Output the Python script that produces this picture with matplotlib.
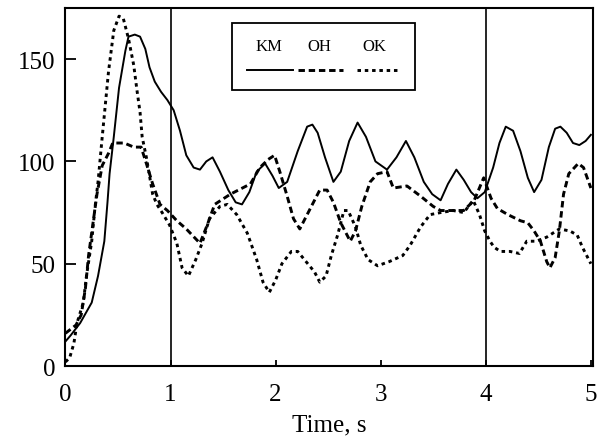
import numpy as np
import matplotlib.pyplot as plt
from matplotlib.lines import Line2D
from matplotlib.patches import Rectangle

# series (time in s, value)
km_t = [0, 0.05, 0.14, 0.25, 0.31, 0.37, 0.40, 0.42, 0.46, 0.51, 0.57, 0.60, 0.66, 0.71,
        0.76, 0.80, 0.85, 0.91, 0.97, 1.03, 1.09, 1.15, 1.22, 1.28, 1.34, 1.40, 1.47, 1.55,
        1.62, 1.68, 1.75, 1.82, 1.90, 1.97, 2.03, 2.11, 2.21, 2.30, 2.35, 2.40, 2.47, 2.55,
        2.62, 2.70, 2.78, 2.86, 2.95, 3.06, 3.15, 3.24, 3.32, 3.41, 3.49, 3.57, 3.64, 3.72,
        3.79, 3.86, 3.92, 3.99, 4.07, 4.13, 4.19, 4.26, 4.33, 4.40, 4.46, 4.53, 4.60, 4.66,
        4.71, 4.77, 4.83, 4.89, 4.95, 5.00]
km_v = [12, 15, 21, 31, 44, 61, 80, 94, 112, 136, 154, 161, 162, 161,
        155, 146, 139, 134, 130, 125, 115, 103, 97, 96, 100, 102, 95, 86,
        80, 79, 85, 95, 99, 93, 87, 90, 105, 117, 118, 114, 102, 90,
        95, 110, 119, 112, 100, 96, 102, 110, 102, 90, 84, 81, 89, 96,
        91, 85, 82, 85, 97, 109, 117, 115, 105, 92, 85, 91, 107, 116,
        117, 114, 109, 108, 110, 113]

oh_t = [0, 0.10, 0.15, 0.19, 0.22, 0.26, 0.30, 0.35, 0.41, 0.45, 0.56, 0.65, 0.72, 0.77,
        0.83, 0.90, 0.97, 1.06, 1.15, 1.28, 1.35, 1.42, 1.57, 1.76, 1.85, 1.93, 1.99, 2.04,
        2.11, 2.17, 2.23, 2.33, 2.42, 2.49, 2.55, 2.62, 2.71, 2.76, 2.82, 2.90, 2.97, 3.06,
        3.12, 3.25, 3.38, 3.50, 3.57, 3.73, 3.79, 3.89, 3.98, 4.05, 4.11, 4.21, 4.33, 4.40,
        4.46, 4.52, 4.58, 4.61, 4.66, 4.70, 4.74, 4.79, 4.88, 4.93, 5.00]
oh_v = [16, 20, 25, 38, 54, 69, 84, 98, 104, 109, 109, 107, 107, 99,
        89, 79, 76, 71, 67, 60, 69, 79, 84, 89, 97, 101, 103, 95,
        83, 72, 67, 77, 86, 86, 80, 70, 61, 66, 78, 90, 94, 95,
        87, 88, 83, 78, 76, 76, 76, 81, 92, 82, 77, 74, 71, 70,
        66, 61, 51, 48, 53, 66, 84, 94, 99, 97, 87]

ok_t = [0, 0.04, 0.08, 0.11, 0.17, 0.20, 0.25, 0.28, 0.31, 0.35, 0.41, 0.46, 0.51, 0.55,
        0.60, 0.65, 0.68, 0.71, 0.73, 0.77, 0.80, 0.83, 0.87, 0.92, 0.99, 1.06, 1.11, 1.17,
        1.24, 1.30, 1.37, 1.47, 1.54, 1.63, 1.73, 1.82, 1.88, 1.94, 2.00, 2.06, 2.15, 2.21,
        2.29, 2.37, 2.42, 2.48, 2.53, 2.59, 2.65, 2.69, 2.76, 2.81, 2.88, 2.97, 3.08, 3.21,
        3.28, 3.38, 3.47, 3.57, 3.69, 3.79, 3.88, 3.94, 3.99, 4.04, 4.08, 4.14, 4.23, 4.32,
        4.39, 4.48, 4.58, 4.70, 4.80, 4.87, 4.92, 5.00]
ok_v = [2, 4, 11, 21, 31, 44, 61, 77, 90, 112, 144, 164, 171, 170,
        160, 147, 135, 124, 112, 102, 93, 84, 79, 75, 69, 60, 48, 44,
        52, 60, 72, 78, 79, 74, 65, 52, 41, 36, 42, 50, 56, 56,
        51, 46, 41, 44, 54, 64, 76, 76, 68, 59, 52, 49, 51, 54,
        59, 68, 74, 75, 76, 75, 81, 74, 66, 61, 58, 56, 56, 55,
        61, 61, 63, 67, 66, 64, 58, 50]

marker_times = [1, 4]
x_ticks = [0, 1, 2, 3, 4, 5]
y_ticks = [0, 50, 100, 150]

plt.rcParams['font.family'] = ['Liberation Serif', 'DejaVu Serif']

fig = plt.figure(figsize=(6.06, 4.39), dpi=100)
ax = fig.add_axes([0.108, 0.164, 0.8705, 0.8155])

oh_style = (0, (2.2, 1.3))
ok_style = (0, (1.2, 1.3))

ax.plot(km_t, km_v, color='black', lw=1.4)
ax.plot(oh_t, oh_v, color='black', lw=2.1, linestyle=oh_style)
ax.plot(ok_t, ok_v, color='black', lw=2.1, linestyle=ok_style)

for t in marker_times:
    ax.axvline(t, color='black', lw=1.2)

ax.set_xlim(0, 5.02)
ax.set_ylim(0, 175)
ax.set_xticks(x_ticks)
ax.set_yticks(y_ticks)
ax.tick_params(axis='y', direction='in', length=8, width=1.3, labelsize=18, pad=7)
ax.tick_params(axis='x', direction='in', length=4, width=1.3, labelsize=18, pad=12)
for s in ax.spines.values():
    s.set_linewidth(1.5)

ax.set_xlabel('Time, s', fontsize=18, labelpad=6)

# legend: names above short line samples, inside a box
ax.add_patch(Rectangle((0.316, 0.771), 0.347, 0.187, transform=ax.transAxes,
                       fill=False, lw=1.3, color='black', zorder=5))
names = ['KM', 'OH', 'OK']
name_x = [0.386, 0.482, 0.585]
sample_x = [(0.344, 0.431), (0.441, 0.526), (0.552, 0.630)]
styles = [('-', 1.4), (oh_style, 2.1), (ok_style, 2.1)]
for n, nx, sx, (ls, lw) in zip(names, name_x, sample_x, styles):
    ax.text(nx, 0.894, n, transform=ax.transAxes, ha='center', va='center', fontsize=12)
    ax.add_line(Line2D(sx, [0.827, 0.827], transform=ax.transAxes, color='black',
                       lw=lw, linestyle=ls))

fig.savefig('out.png', dpi=100)
